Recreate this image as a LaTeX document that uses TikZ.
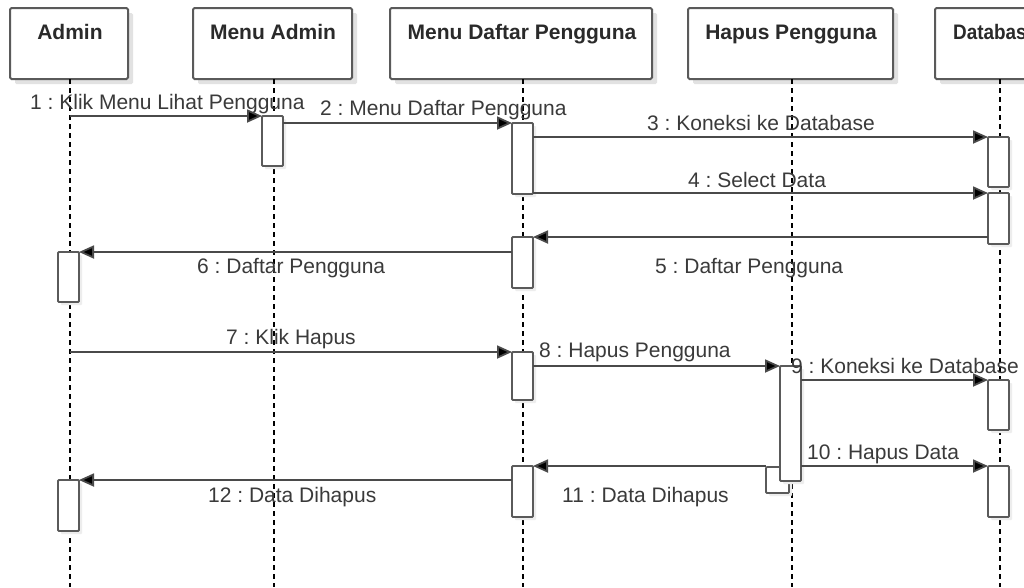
\documentclass[tikz,border=0pt]{standalone}
\usepackage{fontspec}
\setmainfont{Liberation Sans}
\usetikzlibrary{arrows.meta,shadows}
\definecolor{edge}{HTML}{5A5A5A}
\definecolor{msgc}{HTML}{4A4A4A}
\definecolor{txt}{HTML}{3A3A3A}
\definecolor{headtxt}{HTML}{2A2A2A}
\definecolor{shade}{HTML}{E2E2E2}
\frenchspacing

\tikzset{
  head/.style={draw=edge, line width=2pt, rounded corners=1.5pt, fill=white,
    inner sep=0pt, outer sep=0pt, anchor=north west, minimum height=71pt,
    drop shadow={shadow xshift=5pt, shadow yshift=-5pt, fill=shade, opacity=1}},
  headtext/.style={anchor=base, text=headtxt, inner sep=0pt,
    font=\bfseries\fontsize{21}{25}\selectfont},
  act/.style={draw=edge, line width=1.8pt, rounded corners=1pt, fill=white,
    inner sep=0pt, outer sep=0pt, anchor=north west, minimum width=21pt,
    drop shadow={shadow xshift=3pt, shadow yshift=-3pt, fill=black!7, opacity=1}},
  lifeline/.style={draw=black, line width=1.3pt, dash pattern=on 5pt off 4pt},
  msg/.style={draw=msgc, line width=1.8pt,
    -{Triangle[length=15pt, width=13pt, fill=black]}, shorten >=0pt},
  lbl/.style={anchor=base west, text=txt, inner sep=0pt,
    font=\fontsize{21}{25}\selectfont}
}

\begin{document}
\begin{tikzpicture}[x=1pt, y=-1pt]
  \useasboundingbox (0,0) rectangle (1024,587);
  \clip (0,0) rectangle (1024,587);
  \fill[white] (0,0) rectangle (1024,587);

  % participant headers
  \node[head, minimum width=118pt] (hAdmin) at (10,8) {};
  \node[head, minimum width=159pt] (hMenuAdmin) at (193,8) {};
  \node[head, minimum width=262pt] (hDaftar) at (390,8) {};
  \node[head, minimum width=205pt] (hHapus) at (688,8) {};
  \node[head, minimum width=130pt] (hDb) at (935,8) {};

  \node[headtext] (tAdmin) at (70,39) {Admin};
  \node[headtext] (tMenuAdmin) at (273,39) {Menu Admin};
  \node[headtext] (tDaftar) at (522,39) {Menu Daftar Pengguna};
  \node[headtext] (tHapus) at (791,39) {Hapus Pengguna};
  \node[headtext, anchor=base west, xscale=0.9] (tDb) at (953,39) {Database};

  % lifelines
  \coordinate (lAdmin) at (70,587);
  \coordinate (lMenuAdmin) at (274,587);
  \coordinate (lDaftar) at (523,587);
  \coordinate (lHapus) at (792,587);
  \coordinate (lDb) at (1000,587);
  \draw[lifeline] (hAdmin.south -| lAdmin) -- (lAdmin);
  \draw[lifeline] (hMenuAdmin.south -| lMenuAdmin) -- (lMenuAdmin);
  \draw[lifeline] (hDaftar.south -| lDaftar) -- (lDaftar);
  \draw[lifeline] (hHapus.south -| lHapus) -- (lHapus);
  \draw[lifeline] (hDb.south -| lDb) -- (lDb);

  % activation bars
  \node[act, minimum width=23pt, minimum height=26pt] (sm) at (766,467) {};
  \node[act, minimum height=50pt] (am1) at (262,116) {};
  \node[act, minimum height=71pt] (md1) at (512,123) {};
  \node[act, minimum height=50pt] (db1) at (988,137) {};
  \node[act, minimum height=51pt] (db2) at (988,193) {};
  \node[act, minimum height=51pt] (md2) at (512,237) {};
  \node[act, minimum height=50pt] (ad1) at (58,252) {};
  \node[act, minimum height=48pt] (md3) at (512,352) {};
  \node[act, minimum height=115pt] (hp1) at (780,366) {};
  \node[act, minimum height=50pt] (db3) at (988,380) {};
  \node[act, minimum height=51pt] (db4) at (988,466) {};
  \node[act, minimum height=51pt] (md4) at (512,466) {};
  \node[act, minimum height=51pt] (ad2) at (58,480) {};

  % message labels
  \node[lbl] (m1) at (30,109) {1 : Klik Menu Lihat Pengguna};
  \node[lbl] (m2) at (320,115) {2 : Menu Daftar Pengguna};
  \node[lbl] (m3) at (647,130) {3 : Koneksi ke Database};
  \node[lbl] (m4) at (688,187) {4 : Select Data};
  \node[lbl] (m5) at (655,273) {5 : Daftar Pengguna};
  \node[lbl] (m6) at (197,273) {6 : Daftar Pengguna};
  \node[lbl] (m7) at (226,344) {7 : Klik Hapus};
  \node[lbl] (m8) at (539,357) {8 : Hapus Pengguna};
  \node[lbl] (m9) at (791,373) {9 : Koneksi ke Database};
  \node[lbl] (m10) at (807,459) {10 : Hapus Data};
  \node[lbl] (m11) at (562,502) {11 : Data Dihapus};
  \node[lbl] (m12) at (208,502) {12 : Data Dihapus};

  % messages
  \draw[msg] (lAdmin |- am1.north) -- (am1.north west);
  \draw[msg] (am1.east |- md1.north) -- (md1.north west);
  \draw[msg] (md1.east |- db1.north) -- (db1.north west);
  \draw[msg] (md1.east |- db2.north) -- (db2.north west);
  \draw[msg] (db2.west |- md2.north) -- (md2.north east);
  \draw[msg] (md2.west |- ad1.north) -- (ad1.north east);
  \draw[msg] (lAdmin |- md3.north) -- (md3.north west);
  \draw[msg] (md3.east |- hp1.north) -- (hp1.north west);
  \draw[msg] (hp1.east |- db3.north) -- (db3.north west);
  \draw[msg] (hp1.east |- db4.north) -- (db4.north west);
  \draw[msg] (sm.west |- md4.north) -- (md4.north east);
  \draw[msg] (md4.west |- ad2.north) -- (ad2.north east);
\end{tikzpicture}
\end{document}
